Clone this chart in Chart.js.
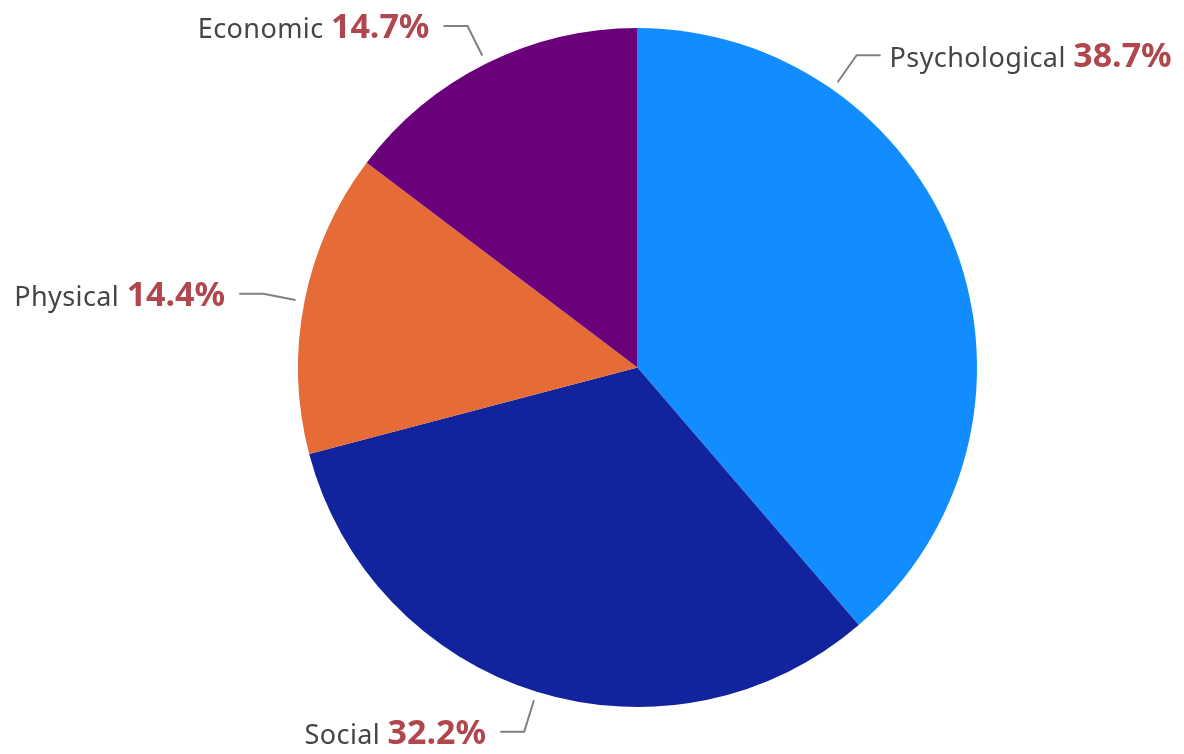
<!DOCTYPE html>
<html>
<head>
<meta charset="utf-8">
<title>Categories share</title>
<script src="https://cdn.jsdelivr.net/npm/chart.js@4/dist/chart.umd.min.js"></script>
<style>
  html, body { margin: 0; padding: 0; background: #ffffff; }
  #wrap { width: 1184px; height: 754px; position: relative; }
</style>
</head>
<body>
<div id="wrap"><canvas id="chart" width="1184" height="754"></canvas></div>
<script>
// Slice data, clockwise from the top
const categories = ['Psychological', 'Social', 'Physical', 'Economic'];
const shares = [38.7, 32.2, 14.4, 14.7];
const sliceColors = ['#118DFF', '#12239E', '#E66C37', '#6B007B'];

const NAME_FONT = '400 27px "Noto Sans", sans-serif';
const VALUE_FONT = '700 34px "Noto Sans", sans-serif';
const NAME_SPACING = '0.4px';

// Outside labels with a two-segment leader line (radial part + horizontal part)
const outsideLabels = {
  id: 'outsideLabels',
  afterDatasetsDraw(chart, args, opts) {
    const ctx = chart.ctx;
    const meta = chart.getDatasetMeta(0);
    const W = chart.width;
    ctx.save();
    meta.data.forEach((arc, i) => {
      const p = arc.getProps(['x', 'y', 'startAngle', 'endAngle', 'outerRadius'], true);
      const name = categories[i];
      const value = shares[i].toFixed(1) + '%';
      ctx.font = NAME_FONT;
      ctx.letterSpacing = NAME_SPACING;
      const nameW = ctx.measureText(name + ' ').width;
      ctx.font = VALUE_FONT;
      ctx.letterSpacing = '0px';
      const valW = ctx.measureText(value).width;
      const textW = nameW + valW;

      const geom = (ang) => {
        const cos = Math.cos(ang), sin = Math.sin(ang);
        const r0 = p.outerRadius + opts.startGap;
        const r1 = p.outerRadius + opts.startGap + opts.radialLen;
        const right = cos >= 0;
        const ax = p.x + cos * r0, ay = p.y + sin * r0;
        const ex = p.x + cos * r1, ey = p.y + sin * r1;
        const hx = ex + (right ? opts.horizLen : -opts.horizLen);
        const tx = hx + (right ? opts.textGapRight : -opts.textGapLeft);
        return { ax, ay, ex, ey, hx, tx, right };
      };

      // Slide the anchor towards the top when the text would run off the canvas
      let ang = (p.startAngle + p.endAngle) / 2;
      let g = geom(ang);
      let guard = 0;
      while (g.right && g.tx + textW > W - opts.edgeMargin && guard < 2000) {
        ang -= 0.001;
        g = geom(ang);
        guard++;
      }
      while (!g.right && g.tx - textW < opts.edgeMargin && guard < 4000) {
        ang += (Math.sin(ang) < 0 ? -0.001 : 0.001);
        g = geom(ang);
        guard++;
      }

      ctx.strokeStyle = opts.lineColor;
      ctx.lineWidth = opts.lineWidth;
      ctx.lineJoin = 'miter';
      ctx.beginPath();
      ctx.moveTo(g.ax, g.ay);
      ctx.lineTo(g.ex, g.ey);
      ctx.lineTo(g.hx, g.ey);
      ctx.stroke();

      const baseY = g.ey + opts.baselineShift;
      const startX = g.right ? g.tx : g.tx - textW;
      ctx.textBaseline = 'alphabetic';
      ctx.textAlign = 'left';
      ctx.font = NAME_FONT;
      ctx.letterSpacing = NAME_SPACING;
      ctx.fillStyle = opts.nameColor;
      ctx.fillText(name, startX, baseY);
      ctx.font = VALUE_FONT;
      ctx.letterSpacing = '0px';
      ctx.fillStyle = opts.valueColor;
      ctx.fillText(value, startX + nameW, baseY);
    });
    ctx.restore();
  }
};

new Chart(document.getElementById('chart'), {
  type: 'pie',
  data: {
    labels: categories,
    datasets: [{
      data: shares,
      backgroundColor: sliceColors,
      borderWidth: 0
    }]
  },
  options: {
    responsive: false,
    animation: false,
    radius: 339.5,
    layout: { padding: { left: 91, right: 0, top: 0, bottom: 19 } },
    plugins: {
      legend: { display: false },
      tooltip: { enabled: false },
      outsideLabels: {
        startGap: 9,
        radialLen: 33,
        horizLen: 24,
        textGapRight: 9,
        textGapLeft: 14,
        edgeMargin: 12,
        baselineShift: 12,
        lineColor: '#808080',
        lineWidth: 2,
        nameColor: '#454545',
        valueColor: '#B0474F'
      }
    }
  },
  plugins: [outsideLabels]
});
</script>
</body>
</html>
